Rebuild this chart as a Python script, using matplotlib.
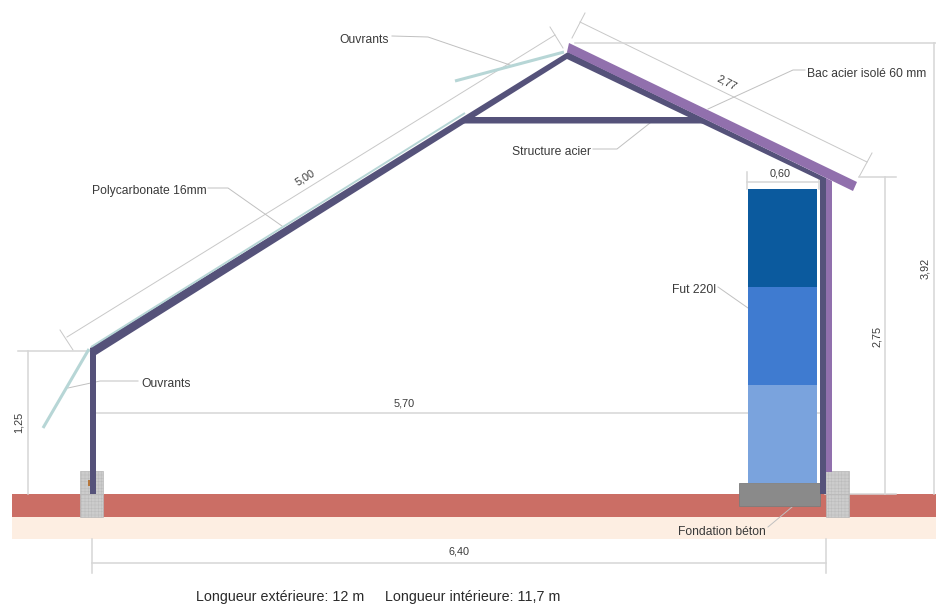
import matplotlib
matplotlib.use("Agg")
import matplotlib.pyplot as plt
from matplotlib.patches import Polygon, Rectangle

plt.rcParams['font.family'] = ['Liberation Sans', 'DejaVu Sans']
plt.rcParams['hatch.linewidth'] = 0.3

W, H = 936, 604

# ground layers: x0, x1, y0, y1, colour
ground = [(12, 936, 494, 517, '#cb6e65'), (12, 936, 517, 539, '#fdeee2')]
# stored drums, top to bottom
drum_x = (748, 817)
drum_y = [189, 287, 385, 483]
drum_colors = ['#0b5a9e', '#3f7bd0', '#7aa3dd']
foundation = (739, 483, 81, 23)
blocks = [(80, 471, 23, 23), (80, 494, 23, 23), (826, 471, 23, 23), (826, 494, 23, 23)]
bolt = (88, 480, 2, 6)

frame_poly = [(90, 494), (90, 348), (568, 52), (826, 178), (826, 494), (820, 494),
              (820, 180), (567, 59), (96, 355), (96, 494)]
tie_poly = [(466, 117), (692, 117), (705, 123.5), (458, 123.5)]
steel_roof = [(569, 43), (857, 182), (853, 191), (567, 52)]
steel_wall = [(826, 178), (832, 181), (832, 472), (826, 472)]

polycarbonate = [(91, 347), (465, 113)]
vent_top = [(455, 81), (564, 52)]
vent_left = [(43, 428), (89, 349)]

# thin dimension lines: (x0, y0, x1, y1)
diag_dims = [
    (67, 337, 555, 35), (550, 27, 563, 48), (60, 330, 73, 350),
    (580, 22, 867, 162), (585, 13, 572, 38), (872, 153, 859, 177),
]
straight_dims = [
    (94, 413, 820, 413),
    (92, 563, 826, 563), (92, 539, 92, 573), (826, 539, 826, 573),
    (28, 351, 28, 494), (18, 351, 90, 351),
    (747, 182, 819, 182), (747, 172, 747, 189), (819, 176, 819, 189),
    (885, 177, 885, 494), (859, 177, 896, 177), (825, 494, 896, 494),
    (934, 43, 934, 494), (575, 43, 936, 43),
]
# thin leader lines, each a polyline
leaders = [
    [(392, 36), (428, 37), (510, 65)],
    [(138, 381), (100, 381), (68, 388)],
    [(208, 188), (228, 188), (282, 226)],
    [(805, 70), (793, 70), (708, 109)],
    [(593, 149), (617, 149), (650, 123)],
    [(718, 287), (748, 308)],
    [(768, 527), (792, 507)],
]

# label, x, y, rotation
labels = [
    ('Ouvrants', 364, 40, 0),
    ('Ouvrants', 166, 384, 0),
    ('Polycarbonate 16mm', 149, 191, 0),
    ('Structure acier', 551, 152, 0),
    ('Bac acier isolé 60 mm', 867, 74, 0),
    ('Fut 220l', 694, 290, 0),
    ('Fondation béton', 722, 532, 0),
]
dim_labels = [
    ('5,00', 305, 178, 32),
    ('2,77', 727, 83, -27),
    ('0,60', 780, 174, 0),
    ('5,70', 404, 403, 0),
    ('6,40', 459, 552, 0),
    ('1,25', 19, 422, 90),
    ('2,75', 877, 336, 90),
    ('3,92', 925, 268, 90),
]
footer = [('Longueur extérieure: 12 m', 196, 597), ('Longueur intérieure: 11,7 m', 385, 597)]

fig = plt.figure(figsize=(W / 100, H / 100), dpi=100)
ax = fig.add_axes([0, 0, 1, 1])
ax.set_xlim(0, W)
ax.set_ylim(H, 0)
ax.axis('off')

for x0, x1, y0, y1, c in ground:
    ax.add_patch(Rectangle((x0, y0), x1 - x0, y1 - y0, color=c, lw=0, zorder=1))

for seg in diag_dims:
    ax.plot([seg[0], seg[2]], [seg[1], seg[3]], color='#c8c8c8', lw=0.7, zorder=2)
for seg in straight_dims:
    ax.plot([seg[0], seg[2]], [seg[1], seg[3]], color='#d6d6d6', lw=1.1, zorder=2)
for pts in leaders:
    ax.plot([p[0] for p in pts], [p[1] for p in pts], color='#c0c0c0', lw=0.7, zorder=2)

for i, c in enumerate(drum_colors):
    ax.add_patch(Rectangle((drum_x[0], drum_y[i]), drum_x[1] - drum_x[0], drum_y[i + 1] - drum_y[i],
                           color=c, lw=0, zorder=3))
ax.add_patch(Rectangle(foundation[:2], foundation[2], foundation[3], facecolor='#8a8a8a',
                       edgecolor='#7c7c7c', lw=0.6, zorder=4))

for b in blocks:
    ax.add_patch(Rectangle(b[:2], b[2], b[3], facecolor='#cccccc', edgecolor='#b8b8b8',
                           lw=0.5, hatch='+++++', zorder=3))
ax.add_patch(Rectangle(bolt[:2], bolt[2], bolt[3], color='#b5763c', lw=0, zorder=4))

ax.add_patch(Polygon(frame_poly, closed=True, color='#55527a', lw=0, zorder=5))
ax.add_patch(Polygon(tie_poly, closed=True, color='#55527a', lw=0, zorder=5))
ax.add_patch(Polygon(steel_roof, closed=True, color='#9170ad', lw=0, zorder=6))
ax.add_patch(Polygon(steel_wall, closed=True, color='#9170ad', lw=0, zorder=6))

for pts, lw in [(polycarbonate, 1.4), (vent_top, 2.2), (vent_left, 2.2)]:
    ax.plot([p[0] for p in pts], [p[1] for p in pts], color='#b7d6d6', lw=lw,
            solid_capstyle='butt', zorder=6)

for t, x, y, r in labels:
    ax.text(x, y, t, fontsize=8.7, color='#3a3a3a', ha='center', va='center', rotation=r, zorder=8)
for t, x, y, r in dim_labels:
    ax.text(x, y, t, fontsize=7.8, color='#3a3a3a', ha='center', va='center', rotation=r,
            rotation_mode='anchor', zorder=8)
for t, x, y in footer:
    ax.text(x, y, t, fontsize=10.25, color='#2a2a2a', ha='left', va='center', zorder=8)

fig.savefig('out.png', dpi=100)
